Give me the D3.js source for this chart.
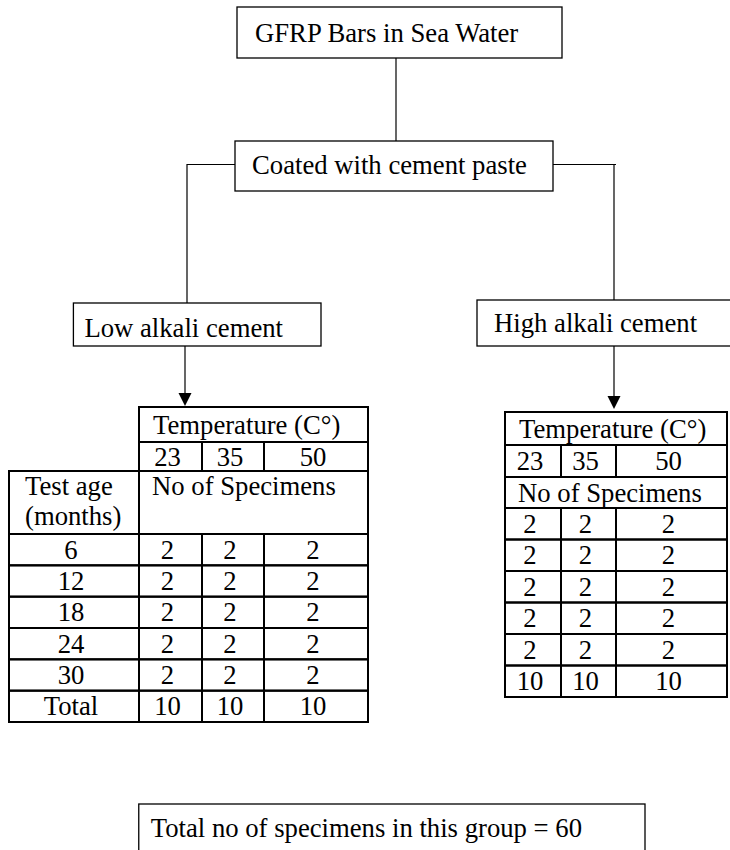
<!DOCTYPE html>
<html>
<head>
<meta charset="utf-8">
<script src="https://cdn.jsdelivr.net/npm/d3@7"></script>
<style>
  body { margin: 0; background: #fff; }
  svg { display: block; }
</style>
</head>
<body>
<div id="chart"></div>
<script>
// data
const rootLabel = "GFRP Bars in Sea Water";
const coatingLabel = "Coated with cement paste";
const cementLabels = ["Low alkali cement", "High alkali cement"];
const temperatures = [23, 35, 50];
const testAges = [6, 12, 18, 24, 30];
const lowCounts = [[2, 2, 2], [2, 2, 2], [2, 2, 2], [2, 2, 2], [2, 2, 2]];
const lowTotals = [10, 10, 10];
const highCounts = [[2, 2, 2], [2, 2, 2], [2, 2, 2], [2, 2, 2], [2, 2, 2]];
const highTotals = [10, 10, 10];
const grandTotal = 60;

const width = 730;
const height = 850;
const font = '"Liberation Serif", "Times New Roman", serif';
const fontSize = 26.7;

const svg = d3.select('#chart')
  .append('svg')
  .attr('width', width)
  .attr('height', height)
  .style('font-family', font)
  .style('font-size', fontSize + 'px');

svg.append('rect').attr('width', width).attr('height', height).attr('fill', '#fff');

// flowchart boxes
function box(x0, y0, x1, y1, label, tx, ty, anchor) {
  svg.append('rect')
    .attr('x', x0).attr('y', y0)
    .attr('width', x1 - x0).attr('height', y1 - y0)
    .attr('fill', 'none').attr('stroke', '#000').attr('stroke-width', 1.3);
  return svg.append('text')
    .attr('x', tx).attr('y', ty)
    .attr('text-anchor', anchor || 'start')
    .text(label);
}

function line(points) {
  svg.append('path')
    .attr('d', d3.line()(points))
    .attr('fill', 'none').attr('stroke', '#000').attr('stroke-width', 1.2);
}

function arrow(x, y0, y1) {
  line([[x, y0], [x, y1 - 12]]);
  svg.append('path')
    .attr('d', `M${x - 6.5},${y1 - 13}L${x + 6.5},${y1 - 13}L${x},${y1}Z`)
    .attr('fill', '#000');
}

box(237, 7, 562, 58, rootLabel, 255, 42);
line([[396, 58], [396, 141]]);
box(235, 141, 553, 191, coatingLabel, 252, 174);

// branches
line([[235, 164.5], [187, 164.5], [187, 303]]);
line([[553, 164.5], [616, 164.5]]);
line([[614, 164.5], [614, 300]]);

// low alkali box: text ends near 283
const lowText = svg.append('text')
  .attr('x', 283).attr('y', 337)
  .attr('text-anchor', 'end')
  .text(cementLabels[0]);
const lowStart = 283 - lowText.node().getComputedTextLength();
svg.append('rect')
  .attr('x', lowStart - 11).attr('y', 303)
  .attr('width', 321 - (lowStart - 11)).attr('height', 43)
  .attr('fill', 'none').attr('stroke', '#000').attr('stroke-width', 1.3);

// high alkali box runs off the right edge
box(477, 300, width + 10, 346, cementLabels[1], 494, 332);

arrow(185, 346, 406);
arrow(614, 346, 409);

// tables
function cell(g, x0, x1, y0, y1) {
  g.append('rect')
    .attr('x', x0).attr('y', y0)
    .attr('width', x1 - x0).attr('height', y1 - y0)
    .attr('fill', 'none').attr('stroke', '#000').attr('stroke-width', 2);
}

function cellText(g, x0, x1, y0, y1, txt, leftPad) {
  const t = g.append('text')
    .attr('y', (y0 + y1) / 2 + 9)
    .text(txt);
  if (leftPad != null) t.attr('x', x0 + leftPad);
  else t.attr('x', (x0 + x1) / 2 - 3).attr('text-anchor', 'middle');
}

function drawTable(cfg) {
  const g = svg.append('g');
  const c = cfg.cols; // column edges for the temperature columns
  const tempLeft = c[0], tempRight = c[c.length - 1];

  // temperature header
  cell(g, tempLeft, tempRight, cfg.rows[0], cfg.rows[1]);
  cellText(g, tempLeft, tempRight, cfg.rows[0], cfg.rows[1], 'Temperature (C°)', 14);

  // temperature values
  temperatures.forEach((t, i) => {
    cell(g, c[i], c[i + 1], cfg.rows[1], cfg.rows[2]);
    cellText(g, c[i], c[i + 1], cfg.rows[1], cfg.rows[2], t);
  });

  // "No of Specimens" row
  if (cfg.labelCol) {
    cell(g, cfg.labelCol[0], cfg.labelCol[1], cfg.rows[2], cfg.rows[3]);
    g.append('text').attr('x', cfg.labelCol[0] + 16).attr('y', cfg.rows[2] + 24).text('Test age');
    g.append('text').attr('x', cfg.labelCol[0] + 16).attr('y', cfg.rows[2] + 54).text('(months)');
    cell(g, tempLeft, tempRight, cfg.rows[2], cfg.rows[3]);
    g.append('text').attr('x', tempLeft + 13).attr('y', cfg.rows[2] + 24).text('No of Specimens');
  } else {
    cell(g, tempLeft, tempRight, cfg.rows[2], cfg.rows[3]);
    cellText(g, tempLeft, tempRight, cfg.rows[2], cfg.rows[3], 'No of Specimens', 13);
  }

  // data rows
  const keys = cfg.body.map(d => d.key);
  const y = d3.scaleBand().domain(keys).range([cfg.rows[3], cfg.rows[4]]);
  cfg.body.forEach(row => {
    const y0 = y(row.key), y1 = y0 + y.bandwidth();
    if (cfg.labelCol) {
      cell(g, cfg.labelCol[0], cfg.labelCol[1], y0, y1);
      cellText(g, cfg.labelCol[0], cfg.labelCol[1], y0, y1, row.label);
    }
    row.values.forEach((v, i) => {
      cell(g, c[i], c[i + 1], y0, y1);
      cellText(g, c[i], c[i + 1], y0, y1, v);
    });
  });
}

drawTable({
  labelCol: [9, 139],
  cols: [139, 202, 264, 368],
  rows: [407, 442, 471, 534, 722],
  body: testAges.map((a, i) => ({ key: 'r' + a, label: a, values: lowCounts[i] }))
    .concat([{ key: 'total', label: 'Total', values: lowTotals }])
});

drawTable({
  labelCol: null,
  cols: [505, 561, 616, 727],
  rows: [412, 445, 477, 508, 697],
  body: highCounts.map((v, i) => ({ key: 'r' + i, values: v }))
    .concat([{ key: 'total', values: highTotals }])
});

// grand total box, text ends near 582
const totText = svg.append('text')
  .attr('x', 582).attr('y', 837)
  .attr('text-anchor', 'end')
  .text(`Total no of specimens in this group = ${grandTotal}`);
const totStart = 582 - totText.node().getComputedTextLength();
svg.append('rect')
  .attr('x', totStart - 12).attr('y', 804)
  .attr('width', 645 - (totStart - 12)).attr('height', 60)
  .attr('fill', 'none').attr('stroke', '#000').attr('stroke-width', 1.3);
</script>
</body>
</html>
